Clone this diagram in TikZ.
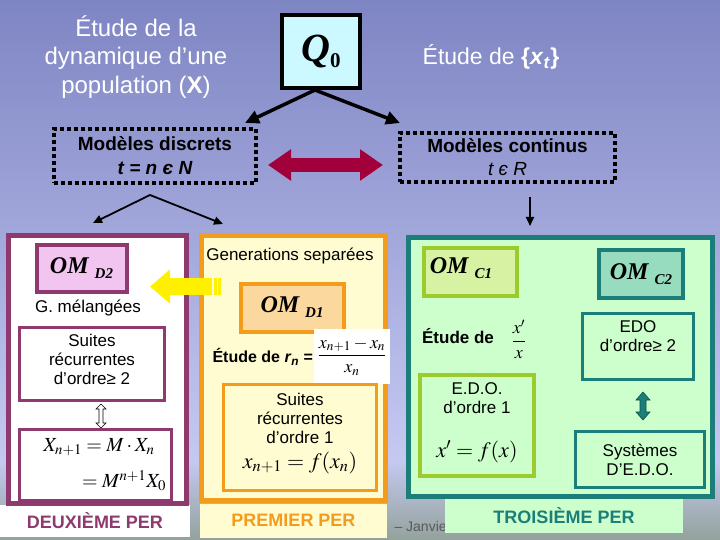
\documentclass[tikz,border=0pt]{standalone}
\usepackage{mathptmx}
\usepackage[no-math]{fontspec}
\setmainfont{Liberation Sans}
\newfontfamily\timesfont{Liberation Serif}
\usetikzlibrary{arrows.meta,positioning}

\definecolor{bgTop}{HTML}{7E85C3}
\definecolor{bgMid}{HTML}{C5C9F1}
\definecolor{bgBot}{HTML}{93A29C}
\definecolor{perD}{HTML}{8E3A6E}
\definecolor{perDfill}{HTML}{F2C4F0}
\definecolor{perP}{HTML}{F39C1C}
\definecolor{perPfill}{HTML}{FFFCD2}
\definecolor{perPom}{HTML}{FBD89E}
\definecolor{perT}{HTML}{1C7E78}
\definecolor{perTfill}{HTML}{CCFFCC}
\definecolor{omCone}{HTML}{9CCB2E}
\definecolor{omConefill}{HTML}{D6F2A2}
\definecolor{omCtwofill}{HTML}{98DCC0}
\definecolor{qfill}{HTML}{CCF8FF}
\definecolor{crimsonArrow}{HTML}{A2003A}
\definecolor{yelArrow}{HTML}{FFF000}

\newcommand{\omname}[1]{{\timesfont\bfseries\itshape\fontsize{24}{24}\selectfont OM\hspace{6pt}\raisebox{-5pt}{\fontsize{15}{15}\selectfont #1}}}

\begin{document}
\begin{tikzpicture}[x=1pt, y=-1pt,
        perframe/.style={draw, line width=5pt, inner sep=0pt},
        box/.style={draw, line width=3pt, inner sep=0pt},
        ombox/.style={draw, line width=4pt, inner sep=0pt},
        dotbox/.style={draw=black, line width=4pt, dash pattern=on 4pt off 3pt, inner sep=0pt},
        txt/.style={font=\fontsize{17}{19}\selectfont, align=center},
        bigtxt/.style={font=\fontsize{24}{28.5}\selectfont, align=center, text=white},
        perlab/.style={font=\fontsize{18}{20}\selectfont\bfseries, inner sep=0pt},
        link/.style={line width=3.5pt, -{Triangle[length=14pt, width=13pt]}},
        sublink/.style={line width=1.8pt, -{Triangle[length=9pt, width=8pt]}},
    ]

    \shade[top color=bgTop, bottom color=bgMid] (0,0) rectangle (720,460);
    \shade[top color=bgMid, bottom color=bgBot] (0,460) rectangle (720,540);
    \useasboundingbox (0,0) rectangle (720,540);

    \node[bigtxt] (Title) at (136,57) {Étude de la\\dynamique d’une\\population (\textbf{X})};
    \node[bigtxt, font=\fontsize{23}{26}\selectfont] (Xt) at (491,57) {Étude de \textbf{\{\textit{x}\textsubscript{\textit{t}}\}}};

    \node[draw, line width=4pt, fill=qfill, minimum width=78pt, minimum height=73pt, inner sep=0pt] (Q0) at (321,51.5)
        {\timesfont\bfseries\fontsize{40}{40}\selectfont\itshape Q\raisebox{-6pt}{\upshape\fontsize{21}{21}\selectfont 0}};

    \node[dotbox, minimum width=202pt, minimum height=54pt, txt, font=\fontsize{19}{24}\selectfont\bfseries] (Disc) at (155,156)
        {Modèles discrets\\\itshape t = n є N};
    \node[dotbox, minimum width=215pt, minimum height=49pt, txt, font=\fontsize{19}{23}\selectfont] (Cont) at (507.5,157.5)
        {\textbf{Modèles continus}\\\itshape t є R};

    \draw[link] ([xshift=-6pt]Q0.south) -- ([shift={(-13,-4)}]Disc.north east);
    \draw[link] ([xshift=-6pt]Q0.south) -- ([shift={(2,-8)}]Cont.north west);
    \draw[crimsonArrow, line width=14pt, {Triangle[length=23pt, width=30pt]}-{Triangle[length=23pt, width=30pt]}]
        ([shift={(10,9)}]Disc.east) -- ([shift={(-15,7.5)}]Cont.west);

    \coordinate (Fork) at ([shift={(-5,10)}]Disc.south);
    \coordinate (ToD2) at (93,223);
    \coordinate (ToD1) at (223,224);
    \draw[sublink] (Fork) -- (ToD2);
    \draw[sublink] (Fork) -- (ToD1);
    \draw[sublink] ([shift={(22.5,13)}]Cont.south) -- ++(0,29);

    \node[anchor=west, font=\fontsize{14}{14}\selectfont, text=black!65] (Date) at (391,526) {– Janvie};

    \node[perlab, fill=white, text=perD, minimum width=190pt, minimum height=32pt] (LabD) at (95,521) {DEUXIÈME PER};
    \node[perlab, fill=perPfill, text=perP, minimum width=187pt, minimum height=34pt] (LabP) at (293.5,520.5) {PREMIER PER};
    \node[perlab, fill=perTfill, text=perT, minimum width=238pt, minimum height=35pt] (LabT) at (564,515.5) {TROISIÈME PER};

    % deuxieme PER
    \node[perframe, draw=perD, fill=white, minimum width=178pt, minimum height=267.5pt] (PerD) at (97.5,369.25) {};
    \node[ombox, draw=perD, fill=perDfill, minimum width=90pt, minimum height=47pt] (OMD2) at (81.5,268) {\omname{D2}};
    \node[txt] (Mix) at (88,308) {G. mélangées};
    \node[box, draw=perD, minimum width=145pt, minimum height=73pt] (SuitesD2) at (92,364) {};
    \node[txt] (SuitesD2txt) at (92,359) {Suites\\récurrentes\\d’ordre≥ 2};
    \draw[fill=white, line width=0.6pt, shift={(101,416)}]
        (0,-12) -- (5,-7) -- (2,-7) -- (2,7) -- (5,7) -- (0,12) -- (-5,7) -- (-2,7) -- (-2,-7) -- (-5,-7) -- cycle;
    \node[box, draw=perD, minimum width=152pt, minimum height=71pt] (FormD2) at (95.5,465) {};
    \node[font=\fontsize{20}{20}\selectfont] (RecD2a) at (99,447) {$X_{n+1} = M\cdot X_n$};
    \node[font=\fontsize{20}{20}\selectfont] (RecD2b) at (124,481) {$= M^{n+1}X_0$};

    % premier PER
    \node[perframe, draw=perP, fill=perPfill, minimum width=183.5pt, minimum height=265pt] (PerP) at (293.25,368) {};
    \node[txt] (Gen) at (290,256) {Generations separées};
    \node[ombox, draw=perP, fill=perPom, minimum width=103pt, minimum height=48pt] (OMD1) at (292,307.5) {\omname{D1}};
    \node[txt, font=\fontsize{16}{19}\selectfont\bfseries, anchor=west] (Rn) at (209,357) {Étude de \textit{r}\textsubscript{\textit{n}} =};
    \node[fill=white, minimum width=70pt, minimum height=55pt, font=\fontsize{18}{18}\selectfont] (RnFrac) at (352,356.5)
        {$\displaystyle\frac{x_{n+1}-x_n}{x_n}$};
    \node[box, draw=perP, minimum width=153pt, minimum height=106pt] (SuitesD1) at (300,437.5) {};
    \node[txt] (SuitesD1txt) at (300,418) {Suites\\récurrentes\\d’ordre 1};
    \node[font=\fontsize{22}{22}\selectfont] (RecD1) at (300,463) {$x_{n+1} = f(x_n)$};

    \coordinate (YelTail) at (212,286.5);
    \coordinate (YelTip) at (150,286.5);
    \draw[yelArrow, line width=17pt, -{Triangle[length=20pt, width=33pt]}] (YelTail) -- (YelTip);
    \fill[yelArrow] (213.5,278) rectangle (216.5,295);
    \fill[yelArrow] (218,278) rectangle (221,295);

    % troisieme PER
    \node[perframe, draw=perT, fill=perTfill, minimum width=304.5pt, minimum height=258.5pt] (PerT) at (560.25,366.75) {};
    \node[ombox, draw=omCone, fill=omConefill, minimum width=93pt, minimum height=48pt] (OMC1) at (470.5,272) {};
    \node (OMC1txt) at (461,268) {\omname{C1}};
    \node[ombox, draw=perT, fill=omCtwofill, minimum width=84pt, minimum height=48pt] (OMC2) at (641,274) {\omname{C2}};
    \node[txt, font=\fontsize{17}{19}\selectfont\bfseries] (EtudeX) at (458,336) {Étude de};
    \node[font=\fontsize{18}{18}\selectfont] (XFrac) at (519,339) {$\displaystyle\frac{x'}{x}$};
    \node[box, draw=perT, minimum width=111pt, minimum height=66pt] (EDO2) at (638,346.5) {};
    \node[txt] (EDO2txt) at (638,336) {EDO\\d’ordre≥ 2};
    \draw[fill=perT, draw=perT!60!black, line width=0.6pt, shift={(643,406)}]
        (0,-14) -- (7,-6) -- (3,-6) -- (3,6) -- (7,6) -- (0,14) -- (-7,6) -- (-3,6) -- (-3,-6) -- (-7,-6) -- cycle;
    \node[box, txt, draw=perT, minimum width=129pt, minimum height=56pt] (Syst) at (640,459.5) {Systèmes\\D’E.D.O.};
    \node[ombox, draw=omCone, minimum width=114pt, minimum height=101pt] (EDO1) at (477,425.5) {};
    \node[txt] (EDO1txt) at (477,398) {E.D.O.\\d’ordre 1};
    \node[font=\fontsize{22}{22}\selectfont] (EDO1eq) at (477,452) {$x' = f(x)$};

\end{tikzpicture}
\end{document}
